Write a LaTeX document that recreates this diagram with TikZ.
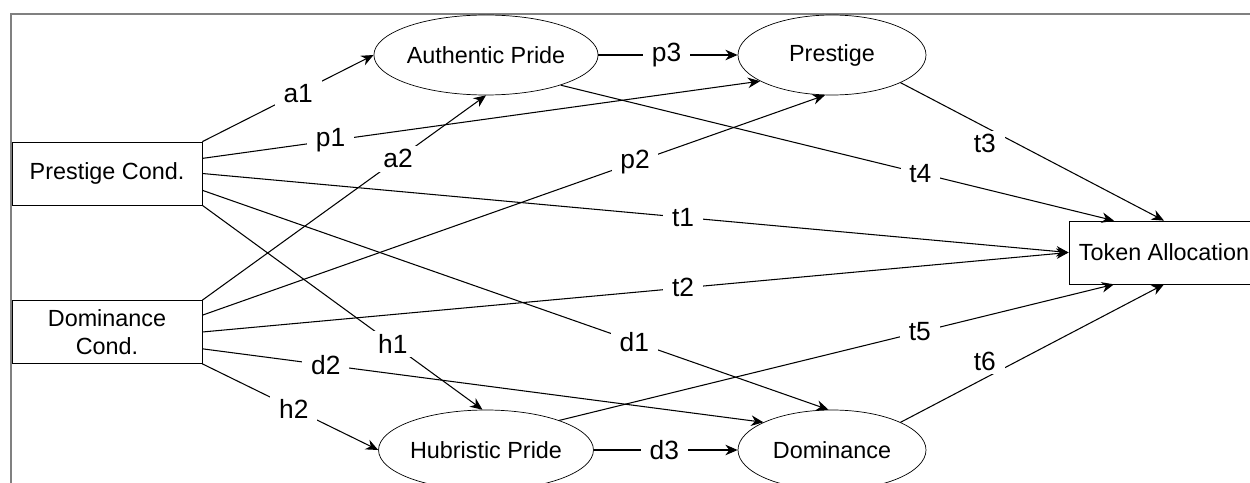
\documentclass[tikz,border=0pt]{standalone}
\usepackage{fontspec}
\setmainfont{Liberation Sans}
\usetikzlibrary{shapes.geometric,arrows.meta}

\begin{document}
\begin{tikzpicture}[x=0.2mm,y=-0.2mm,
  every node/.style={font=\fontsize{13.3}{16}\selectfont},
  cond/.style={draw,rectangle,minimum width=3.8cm,minimum height=1.26cm,inner sep=0pt,align=center},
  emo/.style={draw,ellipse,minimum width=3.76cm,minimum height=1.6cm,inner sep=0pt,fill=white},
  lbl/.style={fill=white,inner xsep=5pt,inner ysep=2pt,font=\fontsize{15}{16}\selectfont},
  arr/.style={-{Stealth[length=7pt,width=6pt]},line width=0.6pt}]
  \useasboundingbox (0,0) rectangle (1250,483);
  \draw[gray,line width=0.9pt] (11,483) -- (11,14) -- (1250,14);

  \node[cond] (pc) at (107,173.5) {Prestige Cond.};
  \node[cond] (dc) at (107,332) {Dominance\\Cond.};
  \node[emo] (ap) at (486,55) {Authentic Pride};
  \node[emo] (pr) at (832,55) {Prestige};
  \node[emo] (hp) at (486,450) {Hubristic Pride};
  \node[emo] (dm) at (832,450) {Dominance};
  \node[cond] (ta) at (1164,252.5) {Token Allocation};
  \coordinate (ta4) at ([xshift=-1cm]ta.north);
  \coordinate (ta5) at ([xshift=-1cm]ta.south);

  \foreach \from/\to/\lab/\p in {pc.north east/ap.west/a1/0.56,dc.north east/ap.south/a2/0.69,
    pc.9/pr.200/p1/0.23,dc.10/pr.260/p2/0.695,ap.east/pr.west/p3/0.49,
    pc.east/ta.west/t1/0.555,dc.east/ta.west/t2/0.555,pc.350/dm.95/d1/0.69,
    pc.south east/hp.95/h1/0.68,dc.350/dm.158/d2/0.22,dc.south east/hp.west/h2/0.52,
    hp.east/dm.west/d3/0.49,ap.338/ta4/t4/0.65,hp.22/ta5/t5/0.65}
    \draw[arr] (\from) -- node[lbl,pos=\p] {\lab} (\to);
  \draw[arr] (pr.338) -- node[lbl,pos=0.32,yshift=-0.34cm] {t3} (ta.north);
  \draw[arr] (dm.22) -- node[lbl,pos=0.32,yshift=0.34cm] {t6} (ta.south);

\end{tikzpicture}
\end{document}
